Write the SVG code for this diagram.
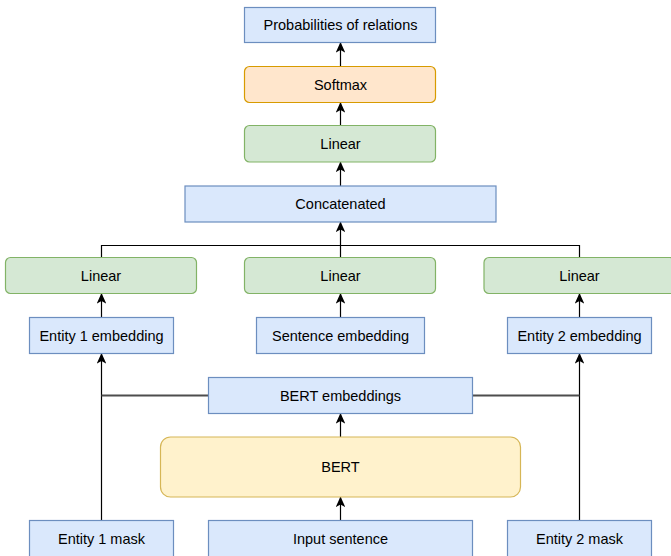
<svg xmlns="http://www.w3.org/2000/svg" width="671" height="556" viewBox="0 0 671 556">
  <style>
    text { font-family: "Liberation Sans", Arial, sans-serif; font-size: 14.5px; fill: #000; text-anchor: middle; dominant-baseline: central; }
    .blue { fill: #dae8fc; stroke: #6c8ebf; stroke-width: 1.2; }
    .green { fill: #d5e8d4; stroke: #82b366; stroke-width: 1.2; }
    .orange { fill: #ffe6cc; stroke: #d79b00; stroke-width: 1.2; }
    .yellow { fill: #fff2cc; stroke: #d6b656; stroke-width: 1.2; }
    .edge { fill: none; stroke: #000; stroke-width: 1.2; }
    .side { fill: none; stroke: #4d4d4d; stroke-width: 1.8; }
  </style>
  <defs>
    <marker id="arr" viewBox="0 0 10 9" refX="9.5" refY="4.5" markerWidth="11" markerHeight="9.5" markerUnits="userSpaceOnUse" orient="auto">
      <path d="M0,0 L10,4.5 L0,9 L2.5,4.5 Z" fill="#000"/>
    </marker>
  </defs>
  <rect width="671" height="556" fill="#fff"/>

  <g id="connectors">
    <path class="edge" d="M340.5 66.5 V42.5" marker-end="url(#arr)"/>
    <path class="edge" d="M340.5 125.5 V102.5" marker-end="url(#arr)"/>
    <path class="edge" d="M340.5 186 V162" marker-end="url(#arr)"/>
    <path class="edge" d="M340.5 257.5 V222" marker-end="url(#arr)"/>
    <path class="edge" d="M101.5 257.5 V245.5 H579.5 V257.5"/>
    <path class="edge" d="M101.5 317.5 V293.5" marker-end="url(#arr)"/>
    <path class="edge" d="M340.5 317.5 V293.5" marker-end="url(#arr)"/>
    <path class="edge" d="M579.5 317.5 V293.5" marker-end="url(#arr)"/>
    <path class="edge" d="M101.5 520.5 V353.5" marker-end="url(#arr)"/>
    <path class="edge" d="M579.5 520.5 V353.5" marker-end="url(#arr)"/>
    <path class="side" d="M208.5 395.5 H101.5"/>
    <path class="side" d="M472.5 395.5 H579.5"/>
    <path class="edge" d="M340.5 437 V413.5" marker-end="url(#arr)"/>
    <path class="edge" d="M340.5 520.5 V497" marker-end="url(#arr)"/>
  </g>

  <g id="probabilities">
    <rect class="blue" x="244.5" y="7.5" width="191" height="35"/>
    <text x="340.5" y="25">Probabilities of relations</text>
  </g>
  <g id="softmax">
    <rect class="orange" x="244.5" y="66.5" width="191" height="36" rx="5"/>
    <text x="340.5" y="84.5">Softmax</text>
  </g>
  <g id="linear-top">
    <rect class="green" x="244.5" y="125.5" width="191" height="36.5" rx="5"/>
    <text x="340.5" y="144">Linear</text>
  </g>
  <g id="concatenated">
    <rect class="blue" x="185" y="186" width="311" height="36"/>
    <text x="340.5" y="204">Concatenated</text>
  </g>
  <g id="linear-left">
    <rect class="green" x="5.5" y="257.5" width="191" height="36" rx="5"/>
    <text x="101" y="275.5">Linear</text>
  </g>
  <g id="linear-mid">
    <rect class="green" x="244.5" y="257.5" width="191" height="36" rx="5"/>
    <text x="340.5" y="275.5">Linear</text>
  </g>
  <g id="linear-right">
    <rect class="green" x="484" y="257.5" width="191" height="36" rx="5"/>
    <text x="579.5" y="275.5">Linear</text>
  </g>
  <g id="entity1-embedding">
    <rect class="blue" x="29.5" y="317.5" width="144" height="36"/>
    <text x="101.5" y="335.5">Entity 1 embedding</text>
  </g>
  <g id="sentence-embedding">
    <rect class="blue" x="256.5" y="317.5" width="168" height="36"/>
    <text x="340.5" y="335.5">Sentence embedding</text>
  </g>
  <g id="entity2-embedding">
    <rect class="blue" x="507.5" y="317.5" width="144" height="36"/>
    <text x="579.5" y="335.5">Entity 2 embedding</text>
  </g>
  <g id="bert-embeddings">
    <rect class="blue" x="208.5" y="377.5" width="264" height="36"/>
    <text x="340.5" y="395.5">BERT embeddings</text>
  </g>
  <g id="bert">
    <rect class="yellow" x="160.5" y="437" width="360" height="60" rx="10"/>
    <text x="340.5" y="467">BERT</text>
  </g>
  <g id="entity1-mask">
    <rect class="blue" x="29.5" y="520.5" width="144" height="40"/>
    <text x="101.5" y="539">Entity 1 mask</text>
  </g>
  <g id="input-sentence">
    <rect class="blue" x="208.5" y="520.5" width="264" height="40"/>
    <text x="340.5" y="539">Input sentence</text>
  </g>
  <g id="entity2-mask">
    <rect class="blue" x="507.5" y="520.5" width="144" height="40"/>
    <text x="579.5" y="539">Entity 2 mask</text>
  </g>
</svg>
